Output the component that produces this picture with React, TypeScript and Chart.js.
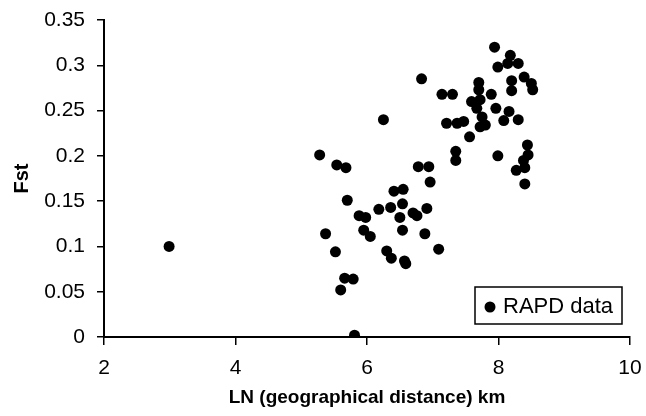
import React, { useEffect, useRef } from "react";
import { Chart, registerables } from "chart.js";

Chart.register(...registerables);

const seriesLabel = "RAPD data";
const xTitle = "LN (geographical distance) km";
const yTitle = "Fst";

const lnDistance = [
  2.99, 5.28, 5.54, 5.68, 5.7, 5.37, 5.52, 5.66, 5.79, 5.6, 5.81, 5.88, 5.98, 5.95, 6.05,
  6.18, 6.25, 6.36, 6.41, 6.55, 6.54, 6.5, 6.54, 6.3, 6.37, 6.57, 6.59, 6.7, 6.76, 6.78,
  6.94, 6.96, 6.91, 6.88, 7.09, 6.83, 7.14, 7.3, 7.21, 7.37, 7.47, 7.35, 7.35, 7.56, 7.59,
  7.72, 7.67, 7.7, 7.7, 7.75, 7.72, 7.8, 7.89, 7.96, 7.94, 7.99, 7.99, 8.08, 8.14, 8.18,
  8.3, 8.16, 8.2, 8.2, 8.3, 8.39, 8.5, 8.52, 8.44, 8.45, 8.38, 8.4, 8.27, 8.4,
];

const fst = [
  0.1, 0.201, 0.19, 0.187, 0.151, 0.114, 0.094, 0.065, 0.064, 0.052, 0.002, 0.134, 0.132, 0.118, 0.111,
  0.141, 0.24, 0.143, 0.161, 0.163, 0.147, 0.132, 0.118, 0.095, 0.087, 0.084, 0.081, 0.137, 0.134, 0.188,
  0.188, 0.171, 0.142, 0.114, 0.097, 0.285, 0.268, 0.268, 0.236, 0.236, 0.238, 0.205, 0.195, 0.221, 0.26,
  0.262, 0.2525, 0.281, 0.273, 0.243, 0.232, 0.234, 0.268, 0.2525, 0.32, 0.298, 0.2, 0.239, 0.302, 0.311,
  0.302, 0.249, 0.283, 0.272, 0.24, 0.287, 0.28, 0.273, 0.212, 0.201, 0.195, 0.187, 0.184, 0.169,
];

const FONT = "'Liberation Sans', Arial, sans-serif";

const legendPlugin = {
  id: "insideLegend",
  afterDraw(chart: any) {
    const ctx = chart.ctx;
    const label = chart.data.datasets[0].label;
    const x = 475, y = 287, w = 147, h = 37;
    ctx.save();
    ctx.fillStyle = "#fff";
    ctx.fillRect(x, y, w, h);
    ctx.strokeStyle = "#000";
    ctx.lineWidth = 1.5;
    ctx.strokeRect(x, y, w, h);
    ctx.fillStyle = "#000";
    ctx.beginPath();
    ctx.arc(x + 15, y + 20, 5.5, 0, Math.PI * 2);
    ctx.fill();
    ctx.font = `22px ${FONT}`;
    ctx.textBaseline = "middle";
    ctx.textAlign = "left";
    ctx.fillText(label, x + 28, y + 20);
    ctx.restore();
  },
};

export default function App() {
  const ref = useRef<HTMLCanvasElement>(null);

  useEffect(() => {
    if (!ref.current) return;
    const points = lnDistance.map((x, i) => ({ x, y: fst[i] }));
    const chart = new Chart(ref.current, {
      type: "scatter",
      data: {
        datasets: [
          {
            label: seriesLabel,
            data: points,
            backgroundColor: "#000",
            borderWidth: 0,
            pointRadius: 5.5,
            pointHoverRadius: 5.5,
          },
        ],
      },
      options: {
        animation: false,
        responsive: false,
        events: [],
        layout: { padding: { top: 20, right: 16, left: 0, bottom: 0 } },
        plugins: { legend: { display: false }, tooltip: { enabled: false } },
        scales: {
          x: {
            type: "linear",
            min: 2,
            max: 10,
            afterFit: (s: any) => {
              s.height = 79;
              s.paddingLeft = 0;
              s.paddingRight = 0;
            },
            ticks: {
              stepSize: 2,
              color: "#000",
              font: { family: FONT, size: 21 },
              padding: 11,
              maxRotation: 0,
            },
            grid: {
              display: true,
              drawOnChartArea: false,
              drawTicks: true,
              tickLength: 8,
              color: "#000",
              lineWidth: 1.5,
            },
            border: { display: true, color: "#000", width: 2 },
            title: {
              display: true,
              text: xTitle,
              color: "#000",
              font: { family: FONT, size: 19, weight: "bold" },
              padding: { top: 0, bottom: 7 },
            },
          },
          y: {
            type: "linear",
            min: 0,
            max: 0.35,
            afterFit: (s: any) => {
              s.width = 104;
              s.paddingTop = 0;
              s.paddingBottom = 0;
            },
            ticks: {
              stepSize: 0.05,
              color: "#000",
              font: { family: FONT, size: 21 },
              padding: 12,
              callback: (v: any) => String(Math.round(Number(v) * 100) / 100),
            },
            grid: {
              display: true,
              drawOnChartArea: false,
              drawTicks: true,
              tickLength: 7,
              color: "#000",
              lineWidth: 1.5,
            },
            border: { display: true, color: "#000", width: 2 },
            title: {
              display: true,
              text: yTitle,
              color: "#000",
              font: { family: FONT, size: 20, weight: "bold" },
              padding: { top: 10, bottom: 0 },
            },
          },
        },
      },
      plugins: [legendPlugin],
    });
    return () => chart.destroy();
  }, []);

  return (
    <div style={{ position: "fixed", left: 0, top: 0, width: 646, height: 416, background: "#fff" }}>
      <canvas ref={ref} width={646} height={416} style={{ display: "block" }} />
    </div>
  );
}
